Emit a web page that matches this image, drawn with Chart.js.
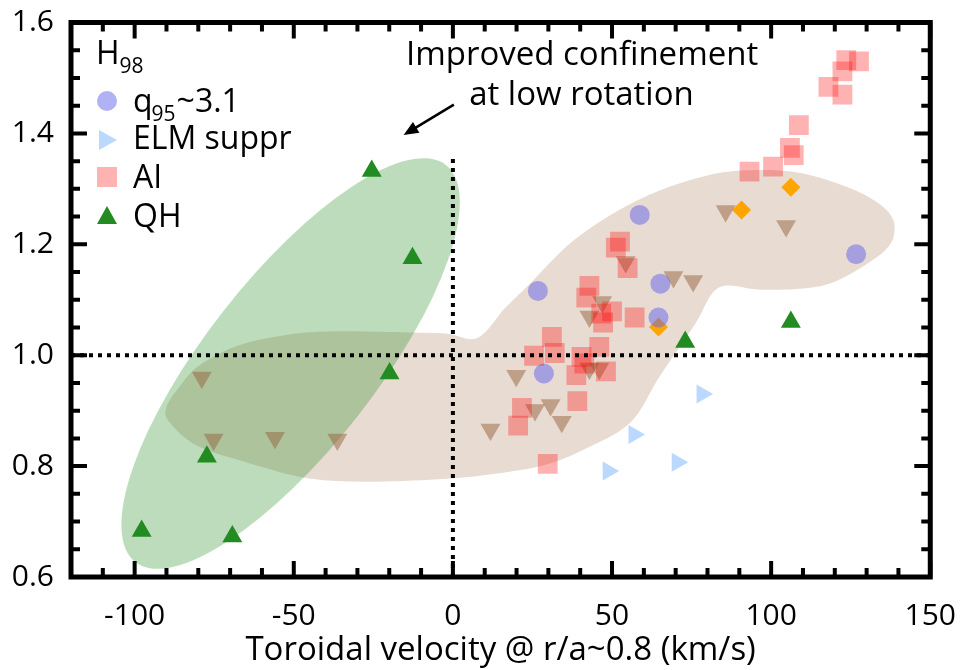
<!DOCTYPE html>
<html>
<head>
<meta charset="utf-8">
<script src="https://cdn.jsdelivr.net/npm/chart.js@4.4.1/dist/chart.umd.min.js"></script>
<style>
html, body { margin: 0; padding: 0; background: #fff; }
</style>
</head>
<body>
<canvas id="myChart" width="972" height="670"></canvas>
<script>
// q95~3.1 (circles)
const q95X = [58.7, 26.7, 65.2, 64.6, 28.6, 126.7];
const q95Y = [1.253, 1.116, 1.129, 1.068, 0.967, 1.182];
// ELM suppr (right triangles)
const elmX = [78.3, 56.9, 48.8, 70.5];
const elmY = [0.930, 0.857, 0.791, 0.807];
// AI (squares)
const aiX = [123.6, 127.6, 122.4, 118.0, 122.4, 108.7, 105.9, 107.1, 100.6, 93.2, 52.5, 51.2, 54.9, 42.9, 41.9, 46.6,
    50.0, 47.2, 57.1, 31.1, 25.5, 32.0, 46.0, 40.4, 38.8, 48.1, 39.1, 21.7, 20.5, 29.8, 41.3];
const aiY = [1.532, 1.530, 1.512, 1.484, 1.470, 1.415, 1.374, 1.361, 1.340, 1.331, 1.205, 1.194, 1.157, 1.125, 1.104, 1.075,
    1.079, 1.059, 1.068, 1.033, 0.999, 1.004, 1.015, 0.997, 0.964, 0.971, 0.917, 0.905, 0.873, 0.804, 0.985];
// QH (green triangles)
const qhX = [-97.8, -69.3, -77.3, -25.5, -12.7, -19.9, 73.0, 106.2];
const qhY = [0.683, 0.673, 0.817, 1.332, 1.175, 0.967, 1.024, 1.060];
// other H-mode (tan down triangles)
const hmodeX = [-78.9, -75.2, -55.9, -36.3, 11.8, 19.9, 25.8, 30.7, 34.2, 42.9, 46.0, 42.9, 46.9, 54.3, 69.3, 75.5, 85.7, 104.7];
const hmodeY = [0.960, 0.848, 0.851, 0.848, 0.866, 0.963, 0.901, 0.910, 0.880, 0.976, 0.976, 1.070, 1.096, 1.168, 1.141, 1.134, 1.260, 1.233];
// orange diamonds
const hybX = [90.7, 64.6, 106.2];
const hybY = [1.262, 1.051, 1.303];

// tick labels
const xTickVals = [-100, -50, 0, 50, 100, 150];
const xTickText = ['-100', '-50', '0', '50', '100', '150'];
const yTickVals = [0.6, 0.8, 1.0, 1.2, 1.4, 1.6];
const yTickText = ['0.6', '0.8', '1.0', '1.2', '1.4', '1.6'];

// shaded regions, in data units
const qhRegion = { center: [-51.0, 0.985], tip: [-2.2, 1.343], halfWidth: 26.8 };
const hmodeRegion = [[-90.1, 0.905], [-85.8, 0.944], [-79.6, 0.982], [-67.2, 1.018], [-51.7, 1.037], [-36.2, 1.043],
    [-14.6, 1.041], [-2.2, 1.039], [7.7, 1.031], [16.4, 1.085], [23.5, 1.125], [39.0, 1.212], [59.7, 1.284],
    [80.5, 1.325], [96.9, 1.334], [111.4, 1.326], [126.9, 1.296], [136.2, 1.262], [138.8, 1.228], [135.6, 1.188],
    [121.7, 1.137], [111.4, 1.121], [96.9, 1.118], [83.6, 1.122], [76.1, 1.056], [65.0, 0.962], [55.7, 0.878],
    [41.2, 0.830], [28.8, 0.802], [13.3, 0.786], [-2.2, 0.777], [-23.9, 0.772], [-44.6, 0.777], [-65.0, 0.807],
    [-80.5, 0.837], [-88.9, 0.878]];

const FONT = "'Open Sans', 'DejaVu Sans', sans-serif";

function pts(xs, ys) {
    return xs.map((v, i) => ({ x: v, y: ys[i] }));
}

function tickIndex(vals, v) {
    return vals.findIndex(t => Math.abs(t - v) < 1e-6);
}

const regions = {
    id: 'regions',
    beforeDatasetsDraw(chart) {
        const { ctx, chartArea: a, scales: { x, y } } = chart;
        ctx.save();
        ctx.beginPath();
        ctx.rect(a.left, a.top, a.right - a.left, a.bottom - a.top);
        ctx.clip();

        // tan blob, closed catmull-rom through outline
        const p = hmodeRegion.map(d => [x.getPixelForValue(d[0]), y.getPixelForValue(d[1])]);
        const n = p.length;
        ctx.beginPath();
        ctx.moveTo(p[0][0], p[0][1]);
        for (let i = 0; i < n; i++) {
            const p0 = p[(i - 1 + n) % n], p1 = p[i], p2 = p[(i + 1) % n], p3 = p[(i + 2) % n];
            ctx.bezierCurveTo(
                p1[0] + (p2[0] - p0[0]) / 6, p1[1] + (p2[1] - p0[1]) / 6,
                p2[0] - (p3[0] - p1[0]) / 6, p2[1] - (p3[1] - p1[1]) / 6,
                p2[0], p2[1]);
        }
        ctx.closePath();
        ctx.fillStyle = '#e8dbd2';
        ctx.fill();

        // green ellipse
        const cx = x.getPixelForValue(qhRegion.center[0]), cy = y.getPixelForValue(qhRegion.center[1]);
        const tx = x.getPixelForValue(qhRegion.tip[0]), ty = y.getPixelForValue(qhRegion.tip[1]);
        const ra = Math.hypot(tx - cx, ty - cy);
        const rb = Math.abs(x.getPixelForValue(qhRegion.halfWidth) - x.getPixelForValue(0));
        ctx.beginPath();
        ctx.ellipse(cx, cy, ra, rb, Math.atan2(ty - cy, tx - cx), 0, 2 * Math.PI);
        ctx.fillStyle = 'rgba(34,139,34,0.3)';
        ctx.fill();
        ctx.restore();
    }
};

function marker(ctx, shape, cx, cy, r, color) {
    ctx.fillStyle = color;
    ctx.beginPath();
    if (shape === 'circle') {
        ctx.arc(cx, cy, r, 0, 2 * Math.PI);
    } else if (shape === 'square') {
        ctx.rect(cx - r, cy - r, 2 * r, 2 * r);
    } else if (shape === 'right') {
        ctx.moveTo(cx + r, cy);
        ctx.lineTo(cx - r * 0.8, cy - r);
        ctx.lineTo(cx - r * 0.8, cy + r);
    } else {
        ctx.moveTo(cx, cy - r);
        ctx.lineTo(cx + r, cy + r * 0.8);
        ctx.lineTo(cx - r, cy + r * 0.8);
    }
    ctx.closePath();
    ctx.fill();
}

const frame = {
    id: 'frame',
    afterDraw(chart) {
        const { ctx, chartArea: a, scales: { x, y } } = chart;
        ctx.save();
        ctx.strokeStyle = '#000';
        ctx.lineWidth = 4;
        ctx.beginPath();
        x.ticks.forEach(t => {
            const px = x.getPixelForValue(t.value);
            const len = tickIndex(xTickVals, t.value) >= 0 ? 16 : 9;
            ctx.moveTo(px, a.bottom); ctx.lineTo(px, a.bottom - len);
            ctx.moveTo(px, a.top); ctx.lineTo(px, a.top + len);
        });
        y.ticks.forEach(t => {
            const py = y.getPixelForValue(t.value);
            const len = tickIndex(yTickVals, t.value) >= 0 ? 16 : 9;
            ctx.moveTo(a.left, py); ctx.lineTo(a.left + len, py);
            ctx.moveTo(a.right, py); ctx.lineTo(a.right - len, py);
        });
        ctx.stroke();
        ctx.lineWidth = 5;
        ctx.strokeRect(a.left, a.top, a.right - a.left, a.bottom - a.top);

        // legend
        ctx.fillStyle = '#000';
        ctx.textBaseline = 'alphabetic';
        ctx.textAlign = 'left';
        ctx.font = '32px ' + FONT;
        ctx.fillText('H', 96, 64);
        let w = ctx.measureText('H').width;
        ctx.font = '21px ' + FONT;
        ctx.fillText('98', 96 + w, 73);

        const rows = [
            { shape: 'circle', color: 'rgba(100,100,235,0.5)', y: 101 },
            { shape: 'right', color: 'rgba(120,180,255,0.5)', y: 140 },
            { shape: 'square', color: 'rgba(255,0,0,0.3)', y: 177 },
            { shape: 'up', color: '#228b22', y: 216 }
        ];
        rows.forEach(r => marker(ctx, r.shape, 107, r.y, 10, r.color));

        ctx.fillStyle = '#000';
        ctx.font = '32px ' + FONT;
        ctx.fillText('q', 133, 112);
        w = ctx.measureText('q').width;
        ctx.font = '21px ' + FONT;
        ctx.fillText('95', 133 + w - 1, 121);
        const w2 = ctx.measureText('95').width;
        ctx.font = '32px ' + FONT;
        ctx.fillText('~3.1', 133 + w + w2, 112);
        ctx.fillText('ELM suppr', 133, 149);
        ctx.fillText('AI', 133, 188);
        ctx.fillText('QH', 133, 227);

        // annotation
        ctx.font = '33px ' + FONT;
        ctx.textAlign = 'center';
        ctx.fillText('Improved confinement', x.getPixelForValue(40.6), y.getPixelForValue(1.524));
        ctx.fillText('at low rotation', x.getPixelForValue(40.4), y.getPixelForValue(1.452));

        const ax0 = x.getPixelForValue(0.3), ay0 = y.getPixelForValue(1.452);
        const ax1 = x.getPixelForValue(-15.5), ay1 = y.getPixelForValue(1.397);
        const ang = Math.atan2(ay1 - ay0, ax1 - ax0);
        ctx.lineWidth = 2.5;
        ctx.beginPath();
        ctx.moveTo(ax0, ay0);
        ctx.lineTo(ax1 - 8 * Math.cos(ang), ay1 - 8 * Math.sin(ang));
        ctx.stroke();
        ctx.beginPath();
        ctx.moveTo(ax1, ay1);
        ctx.lineTo(ax1 - 16 * Math.cos(ang - 0.4), ay1 - 16 * Math.sin(ang - 0.4));
        ctx.lineTo(ax1 - 16 * Math.cos(ang + 0.4), ay1 - 16 * Math.sin(ang + 0.4));
        ctx.closePath();
        ctx.fill();
        ctx.restore();
    }
};

const ctx = document.getElementById('myChart').getContext('2d');
const myChart = new Chart(ctx, {
    type: 'scatter',
    data: {
        datasets: [{
            type: 'line',
            data: [{ x: -120, y: 1.0 }, { x: 150, y: 1.0 }],
            borderColor: '#000', borderWidth: 4, borderDash: [4, 5], pointRadius: 0, order: 0
        }, {
            type: 'line',
            data: [{ x: 0, y: 0.6 }, { x: 0, y: 1.363 }],
            borderColor: '#000', borderWidth: 4, borderDash: [4, 5], pointRadius: 0, order: 0
        }, {
            label: 'ELM suppr',
            data: pts(elmX, elmY),
            pointStyle: 'triangle', pointRotation: 90, pointRadius: 11,
            backgroundColor: 'rgba(120,180,255,0.5)', borderWidth: 0, order: 1
        }, {
            label: 'AI',
            data: pts(aiX, aiY),
            pointStyle: 'rect', pointRadius: 14,
            backgroundColor: 'rgba(255,0,0,0.3)', borderWidth: 0, order: 2
        }, {
            label: 'q95~3.1',
            data: pts(q95X, q95Y),
            pointStyle: 'circle', pointRadius: 10,
            backgroundColor: 'rgba(100,100,235,0.5)', borderWidth: 0, order: 3
        }, {
            label: 'H-mode',
            data: pts(hmodeX, hmodeY),
            pointStyle: 'triangle', pointRotation: 180, pointRadius: 11.5,
            backgroundColor: 'rgba(150,100,60,0.5)', borderWidth: 0, order: 4
        }, {
            label: 'hybrid',
            data: pts(hybX, hybY),
            pointStyle: 'rectRot', pointRadius: 9.5,
            backgroundColor: '#ffa500', borderWidth: 0, order: 5
        }, {
            label: 'QH',
            data: pts(qhX, qhY),
            pointStyle: 'triangle', pointRadius: 11.5,
            backgroundColor: '#228b22', borderWidth: 0, order: 6
        }]
    },
    options: {
        responsive: false,
        animation: false,
        events: [],
        layout: { padding: { left: 0, top: 14, right: 32, bottom: 0 } },
        plugins: { legend: { display: false }, tooltip: { enabled: false } },
        scales: {
            x: {
                type: 'linear', min: -120, max: 150,
                grid: { display: false }, border: { display: false },
                ticks: {
                    stepSize: 10, autoSkip: false, maxRotation: 0, padding: 16,
                    color: '#000', font: { family: FONT, size: 30, lineHeight: 1 },
                    callback: v => { const i = tickIndex(xTickVals, v); return i >= 0 ? xTickText[i] : ''; }
                },
                title: {
                    display: true, text: 'Toroidal velocity @ r/a~0.8 (km/s)', color: '#000',
                    font: { family: FONT, size: 33, lineHeight: 1.2 }, padding: { top: 0, bottom: 0 }
                },
                afterFit: s => { s.height = 93; }
            },
            y: {
                type: 'linear', min: 0.6, max: 1.6,
                grid: { display: false }, border: { display: false },
                ticks: {
                    stepSize: 0.05, autoSkip: false, padding: 9,
                    color: '#000', font: { family: FONT, size: 30, lineHeight: 0.9 },
                    callback: v => { const i = tickIndex(yTickVals, v); return i >= 0 ? yTickText[i] : ''; }
                },
                afterFit: s => { s.width = 71; }
            }
        }
    },
    plugins: [regions, frame]
});
</script>
</body>
</html>
